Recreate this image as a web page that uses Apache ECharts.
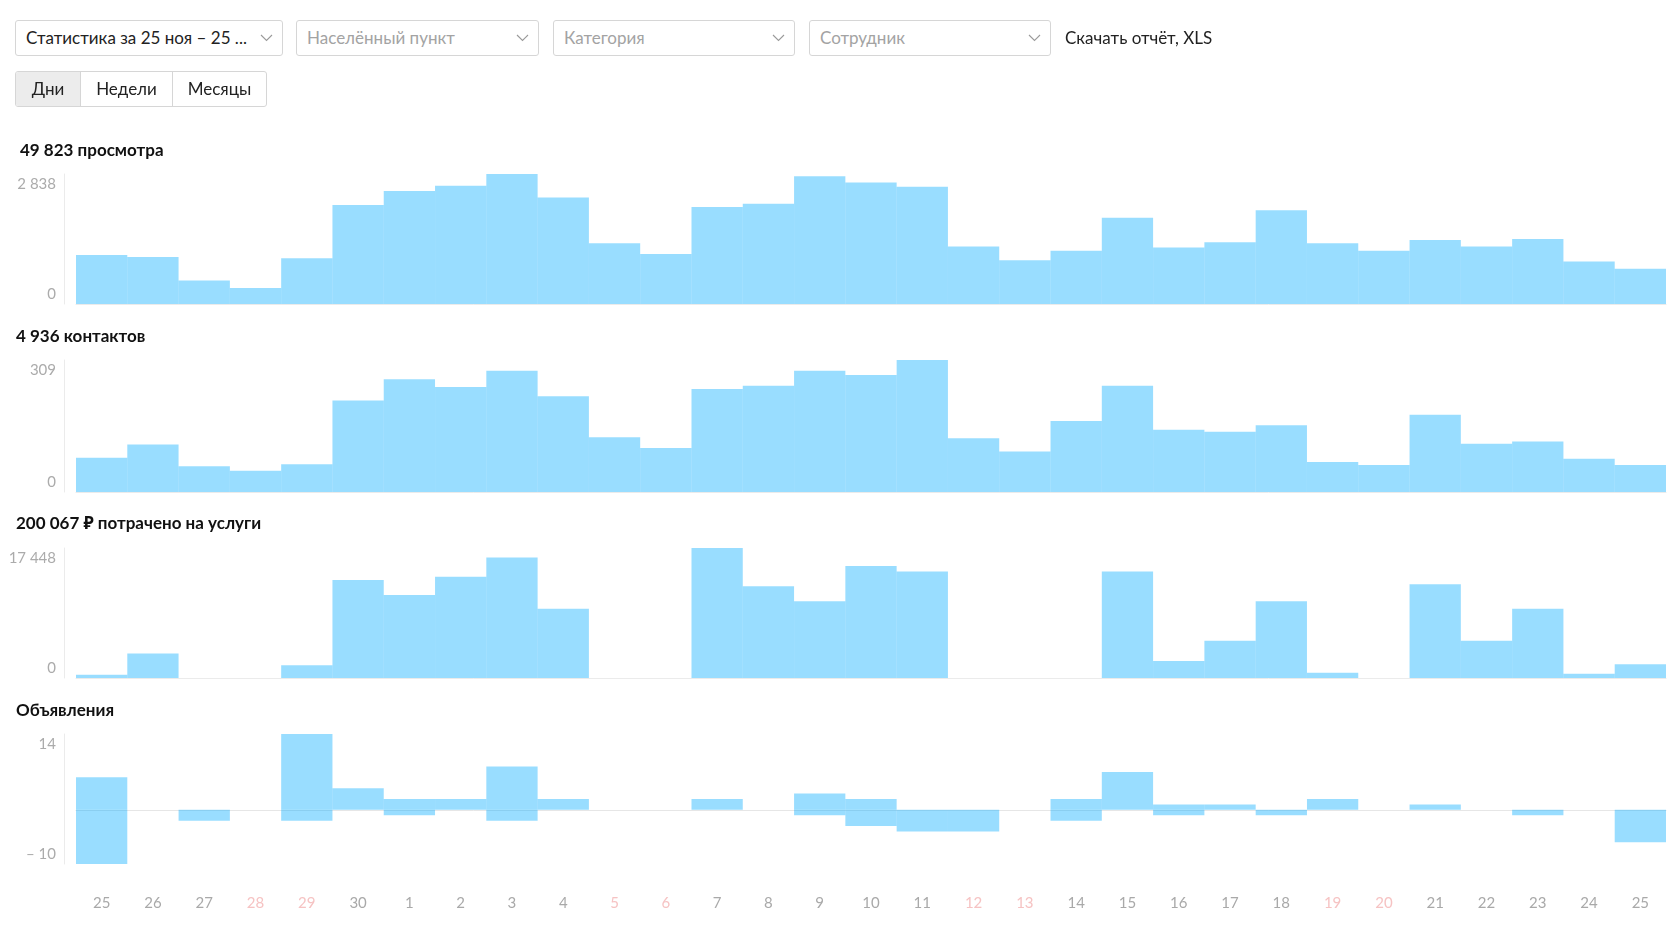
<!DOCTYPE html>
<html>
<head>
<meta charset="utf-8">
<script src="https://cdn.jsdelivr.net/npm/echarts@6/dist/echarts.min.js"></script>
<style>
  html, body { margin:0; padding:0; background:#fff; }
  body { width:1680px; height:926px; position:relative; overflow:hidden; font-family: Lato, "Noto Sans", "Open Sans", sans-serif; }
  #chart { position:absolute; left:0; top:0; width:1680px; height:926px; }
  .dd { position:absolute; top:20px; height:34px; border:1px solid #d6d6d6; border-radius:3px; background:#fff;
        box-sizing:content-box; font-size:17px; line-height:34px; padding-left:10px; color:#a3a3a3; z-index:2; white-space:nowrap; }
  .dd.val { color:#222; }
  .dd svg { position:absolute; right:9px; top:13px; }
  .xls { position:absolute; left:1065px; top:20px; line-height:36px; font-size:17px; color:#222; z-index:2; }
  .seg { position:absolute; top:71px; left:15px; height:34px; border:1px solid #d6d6d6; border-radius:3px; display:flex; z-index:2; overflow:hidden; }
  .seg div { font-size:17px; line-height:34px; color:#222; text-align:center; border-left:1px solid #d6d6d6; }
  .seg div:first-child { border-left:none; background:#ececec; }
</style>
</head>
<body>
<div id="chart"></div>
<div class="dd val" style="left:15px;width:256px;">Статистика за 25 ноя – 25 ...<svg width="13" height="8"><polyline points="1,1 6.5,6.5 12,1" fill="none" stroke="#9a9a9a" stroke-width="1.1"/></svg></div>
<div class="dd" style="left:296px;width:231px;">Населённый пункт<svg width="13" height="8"><polyline points="1,1 6.5,6.5 12,1" fill="none" stroke="#9a9a9a" stroke-width="1.1"/></svg></div>
<div class="dd" style="left:553px;width:230px;">Категория<svg width="13" height="8"><polyline points="1,1 6.5,6.5 12,1" fill="none" stroke="#9a9a9a" stroke-width="1.1"/></svg></div>
<div class="dd" style="left:809px;width:230px;">Сотрудник<svg width="13" height="8"><polyline points="1,1 6.5,6.5 12,1" fill="none" stroke="#9a9a9a" stroke-width="1.1"/></svg></div>
<div class="xls">Скачать отчёт, XLS</div>
<div class="seg"><div style="width:64px;">Дни</div><div style="width:91px;">Недели</div><div style="width:93px;">Месяцы</div></div>
<script>
// ---- data ----
const days = ['25','26','27','28','29','30','1','2','3','4','5','6','7','8','9','10','11','12','13','14','15','16','17','18','19','20','21','22','23','24','25'];
const weekendIdx = [3, 4, 10, 11, 17, 18, 24, 25];
const titles = ['49 823 просмотра', '4 936 контактов', '200 067 ₽ потрачено на услуги', 'Объявления'];
const views = [1070, 1024, 512, 349, 1000, 2163, 2466, 2582, 2838, 2326, 1326, 1093, 2117, 2187, 2791, 2652, 2559, 1256, 954, 1163, 1884, 1233, 1349, 2047, 1326, 1163, 1396, 1256, 1419, 930, 768];
const contacts = [80, 111, 60, 50, 65, 214, 264, 246, 284, 224, 128, 103, 241, 249, 284, 274, 309, 126, 95, 166, 249, 146, 141, 156, 70, 63, 181, 113, 118, 78, 63];
const spend = [429, 3289, 0, 0, 1716, 13157, 11155, 13586, 16160, 9296, 0, 0, 17448, 12299, 10297, 15016, 14302, 0, 0, 0, 14302, 2288, 5005, 10297, 715, 0, 12585, 5005, 9296, 572, 1859];
const adsAdded = [6, 0, 0, 0, 14, 4, 2, 2, 8, 2, 0, 0, 2, 0, 3, 2, 0, 0, 0, 2, 7, 1, 1, 0, 2, 0, 1, 0, 0, 0, 0];
const adsRemoved = [-10, 0, -2, 0, -2, 0, -1, 0, -2, 0, 0, 0, 0, 0, -1, -3, -4, -4, 0, -2, 0, -1, 0, -1, 0, 0, 0, 0, -1, 0, -6];
const yRanges = [[0, 2838], [0, 309], [0, 17448], [-10, 14]];

// ---- layout ----
const gridTops = [174, 360, 548, 734];
const gridHeights = [130, 132, 130, 130];
const titleTops = [141, 327, 514, 701];
const titleLefts = [20, 16, 16, 16];
const barColor = 'rgba(0,170,255,0.4)';
const FONT = 'Lato, "Noto Sans", sans-serif';

function fmt(v) {
  const s = String(Math.abs(v)).replace(/\B(?=(\d{3})+(?!\d))/g, ' ');
  return v < 0 ? '– ' + s : s;
}

const grids = gridTops.map((t, i) => ({ left: 76, right: 14, top: t, height: gridHeights[i] }));
const title = titles.map((t, i) => ({
  text: t, left: titleLefts[i], top: titleTops[i], padding: 0,
  textStyle: { fontFamily: FONT, fontSize: 17, fontWeight: 'bold', color: '#111', lineHeight: 20 }
}));

const xAxis = [];
const yAxis = [];
for (let i = 0; i < 4; i++) {
  const last = i === 3;
  xAxis.push({
    type: 'category', gridIndex: i, data: days, boundaryGap: true,
    axisLine: { show: !last, onZero: false, lineStyle: { color: '#ebebeb', width: 1 } },
    axisTick: { show: false },
    splitLine: { show: false },
    axisLabel: {
      show: last, margin: 32, fontSize: 15, fontFamily: FONT,
      color: (v, idx) => weekendIdx.indexOf(idx) >= 0 ? '#f6c3c3' : '#a9a9a9'
    }
  });
  yAxis.push({
    type: 'value', gridIndex: i, min: yRanges[i][0], max: yRanges[i][1], offset: 12,
    axisLine: { show: true, lineStyle: { color: '#ebebeb' } },
    axisTick: { show: false },
    splitLine: { show: false },
    axisLabel: {
      customValues: yRanges[i].slice(),
      formatter: fmt, fontSize: 15, color: '#ababab', lineHeight: 20, margin: 8,
      fontFamily: FONT,
      verticalAlignMinLabel: 'bottom', verticalAlignMaxLabel: 'top'
    }
  });
}
// zero line for ads chart
xAxis.push({
  type: 'category', gridIndex: 3, data: days, boundaryGap: true,
  axisLine: { show: true, onZero: true, lineStyle: { color: '#e6e6e6' } },
  axisTick: { show: false }, axisLabel: { show: false }, splitLine: { show: false }
});

const mkBar = (data, i, stack) => ({
  type: 'bar', xAxisIndex: i, yAxisIndex: i, data: data, stack: stack,
  barCategoryGap: '0%', barGap: '0%', silent: true,
  itemStyle: { color: barColor }
});

const series = [
  mkBar(views, 0),
  mkBar(contacts, 1),
  mkBar(spend, 2),
  mkBar(adsAdded, 3, 'ads'),
  mkBar(adsRemoved, 3, 'ads')
];

const chart = echarts.init(document.getElementById('chart'), null, { renderer: 'canvas' });
chart.setOption({ animation: false, title, grid: grids, xAxis, yAxis, series });
</script>
</body>
</html>
